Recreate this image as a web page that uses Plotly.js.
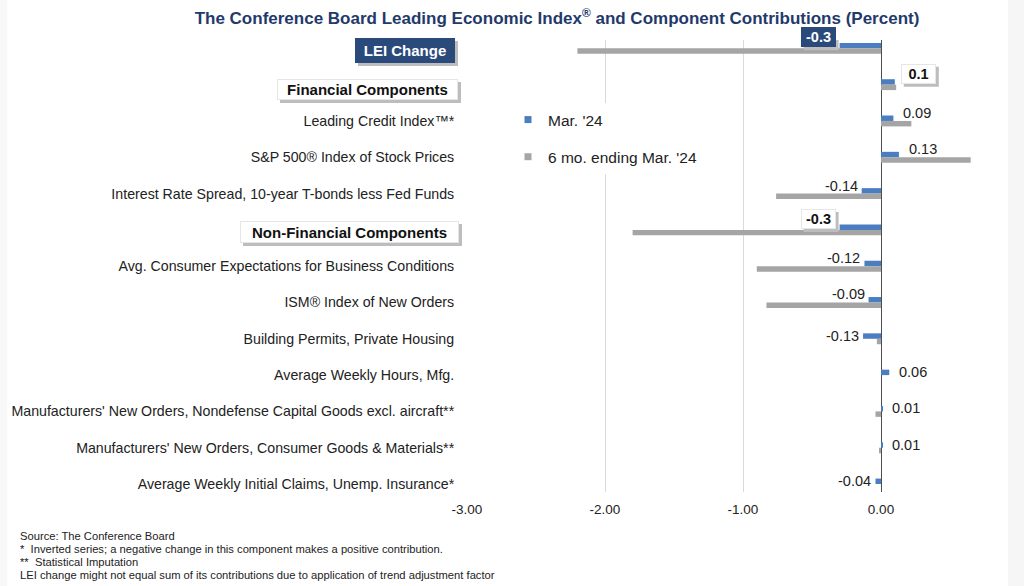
<!DOCTYPE html>
<html>
<head>
<meta charset="utf-8">
<script src="https://cdn.plot.ly/plotly-3.0.1.min.js"></script>
<style>
  html, body { margin: 0; padding: 0; background: #ffffff; }
  #chart { width: 1024px; height: 586px; }
</style>
</head>
<body>
<div id="chart"></div>
<script>
// ---------- data ----------
const categories = [
  "LEI Change",
  "Financial Components",
  "Leading Credit Index™*",
  "S&P 500® Index of Stock Prices",
  "Interest Rate Spread, 10-year T-bonds less Fed Funds",
  "Non-Financial Components",
  "Avg. Consumer Expectations for Business Conditions",
  "ISM® Index of New Orders",
  "Building Permits, Private Housing",
  "Average Weekly Hours, Mfg.",
  "Manufacturers' New Orders, Nondefense Capital Goods excl. aircraft**",
  "Manufacturers' New Orders, Consumer Goods & Materials**",
  "Average Weekly Initial Claims, Unemp. Insurance*"
];
const headingRows = ["LEI Change", "Financial Components", "Non-Financial Components"];
const seriesNames = ["Mar. '24", "6 mo. ending Mar. '24"];
const marValues   = [-0.3, 0.1, 0.09, 0.13, -0.14, -0.3, -0.12, -0.09, -0.13, 0.06, 0.01, 0.01, -0.04];
const sixMoValues = [-2.2, 0.11, 0.22, 0.65, -0.76, -1.8, -0.90, -0.83, -0.03, 0.0, -0.04, -0.01, 0.0];
const xTickVals   = [-3, -2, -1, 0];
const xTickText   = ["-3.00", "-2.00", "-1.00", "0.00"];
const footnotes = [
  "Source: The Conference Board",
  "*  Inverted series; a negative change in this component makes a positive contribution.",
  "**  Statistical Imputation",
  "LEI change might not equal sum of its contributions due to application of trend adjustment factor"
];

// ---------- layout geometry ----------
const W = 1024, H = 586;
const L = 467, R = 1007, T = 40, B = 492;
const PW = R - L, PH = B - T;
const px2x = p => (p - L) / PW;
const py2y = p => (B - p) / PH;

const BLUE = "#4A7EC1", GRAY = "#A5A5A5", NAVY = "#2A4A7C", TITLE = "#1F3A6B", SHADOW = "#BDBDBD";
const FONT = "Liberation Sans, Arial, sans-serif";

const componentRows = categories.filter(c => !headingRows.includes(c));

const traces = [
  {
    type: "bar", orientation: "h", name: seriesNames[0],
    y: categories, x: marValues,
    marker: { color: BLUE }, showlegend: false, hoverinfo: "x+y"
  },
  {
    type: "bar", orientation: "h", name: seriesNames[1],
    y: categories, x: sixMoValues,
    marker: { color: GRAY }, showlegend: false, hoverinfo: "x+y"
  },
  // legend entries (small square swatches)
  {
    type: "scatter", mode: "markers", name: seriesNames[0], legendgroup: "a",
    x: [null], y: [null], marker: { symbol: "square", size: 7, color: BLUE }
  },
  {
    type: "scatter", mode: "markers", name: seriesNames[1], legendgroup: "b",
    x: [null], y: [null], marker: { symbol: "square", size: 7, color: GRAY }
  }
];

const annotations = [];
const shapes = [
  { type: "rect", xref: "paper", yref: "paper", x0: px2x(1008), x1: px2x(1024), y0: py2y(586), y1: py2y(0),
    fillcolor: "#F6F6F6", line: { width: 0 }, layer: "below" },
  { type: "rect", xref: "paper", yref: "paper", x0: px2x(0), x1: px2x(7), y0: py2y(586), y1: py2y(0),
    fillcolor: "#F8F8F8", line: { width: 0 }, layer: "below" }
];

// section heading boxes on the left (box outer size = w+4, h+4)
function headingBox(text, cx, cy, w, h, bg, fg, size, border) {
  const ow = w + 4, oh = h + 4;
  shapes.push({
    type: "rect", xref: "paper", yref: "paper",
    x0: px2x(cx - ow / 2 + 3), x1: px2x(cx + ow / 2 + 3),
    y0: py2y(cy + oh / 2 + 3), y1: py2y(cy - oh / 2 + 3),
    fillcolor: SHADOW, line: { width: 0 }, layer: "above"
  });
  annotations.push({
    xref: "paper", yref: "paper", x: px2x(cx), y: py2y(cy),
    xanchor: "center", yanchor: "middle",
    text: "<b>" + text + "</b>", showarrow: false, width: w, height: h,
    bgcolor: bg, bordercolor: border || bg, borderwidth: 1, borderpad: 1,
    font: { family: FONT, size: size, color: fg }
  });
}
headingBox("LEI Change", 405, 50.5, 96, 21, NAVY, "#ffffff", 15);
headingBox("Financial Components", 367.5, 89.5, 177, 17, "#ffffff", "#111111", 15, "#e6e6e6");
headingBox("Non-Financial Components", 349.5, 232, 215, 18, "#ffffff", "#111111", 15, "#e6e6e6");

// data labels for the Mar. '24 series
categories.forEach((c, i) => {
  const v = marValues[i];
  const g = sixMoValues[i];
  const isHead = headingRows.includes(c);
  const txt = isHead ? v.toFixed(1) : v.toFixed(2);
  const pos = v >= 0;
  if (isHead) {
    const lei = i === 0;
    const bw = 29, bh = 14, ow = bw + 6, oh = bh + 6;
    const xs = pos ? 6 : -4, ys = 11;
    const left = pos ? xs : xs - ow;
    shapes.push({
      type: "rect", xref: "x", yref: "y",
      xsizemode: "pixel", ysizemode: "pixel", xanchor: v, yanchor: c,
      x0: left + 3, x1: left + ow + 3,
      y0: ys - oh / 2 - 3, y1: ys + oh / 2 - 3,
      fillcolor: SHADOW, line: { width: 0 }, layer: "above"
    });
    annotations.push({
      xref: "x", yref: "y", x: v, y: c,
      xanchor: pos ? "left" : "right", yanchor: "middle",
      xshift: xs, yshift: ys, width: bw, height: bh,
      text: "<b>" + txt + "</b>", showarrow: false,
      bgcolor: lei ? NAVY : "#ffffff", borderpad: 2,
      bordercolor: lei ? NAVY : "#e6e6e6", borderwidth: 1,
      font: { family: FONT, size: 14.5, color: lei ? "#ffffff" : "#111111" }
    });
  } else {
    const crowded = (g * v > 0) && Math.abs(g) > Math.abs(v);
    annotations.push({
      xref: "x", yref: "y", x: v, y: c,
      xanchor: pos ? "left" : "right", yanchor: "middle",
      xshift: pos ? 8 : -2, yshift: crowded ? 8 : 3,
      text: txt, showarrow: false,
      font: { family: FONT, size: 14.5, color: "#222222" }
    });
  }
});

// footnotes
footnotes.forEach((f, i) => {
  annotations.push({
    xref: "paper", yref: "paper", x: px2x(18), y: py2y(536 + 13 * i),
    xanchor: "left", yanchor: "middle", showarrow: false,
    text: f, font: { family: FONT, size: 11.2, color: "#222222" }
  });
});

const layout = {
  width: W, height: H,
  paper_bgcolor: "#ffffff", plot_bgcolor: "#ffffff",
  margin: { l: L, r: W - R, t: T, b: H - B, pad: 0 },
  title: {
    text: "<b>The Conference Board Leading Economic Index<sup>®</sup> and Component Contributions (Percent)</b>",
    x: 557 / W, xanchor: "center", xref: "container",
    y: 1 - 18 / H, yanchor: "middle", yref: "container",
    font: { family: FONT, size: 17, color: TITLE }
  },
  barmode: "group", bargap: 0.7, bargroupgap: 0,
  xaxis: {
    range: [-3, -3 + PW / 138],
    tickvals: xTickVals, ticktext: xTickText,
    showgrid: true, gridcolor: "#D9D9D9", gridwidth: 1,
    zeroline: true, zerolinecolor: "#4D4D4D", zerolinewidth: 1,
    showline: false, ticks: "outside", ticklen: 5, tickcolor: "rgba(0,0,0,0)",
    tickfont: { family: FONT, size: 13.5, color: "#222222" },
    fixedrange: true
  },
  yaxis: {
    type: "category", categoryorder: "array", categoryarray: categories,
    range: [categories.length - 1 + 0.22, -0.23],
    tickvals: componentRows,
    ticktext: componentRows,
    showgrid: false, zeroline: false, showline: false,
    ticks: "outside", ticklen: 9, tickcolor: "rgba(0,0,0,0)",
    tickfont: { family: FONT, size: 14.2, color: "#222222" },
    fixedrange: true
  },
  showlegend: true,
  legend: {
    x: px2x(508), xanchor: "left",
    y: py2y(103), yanchor: "top",
    bgcolor: "#ffffff", borderwidth: 0,
    traceorder: "grouped", tracegroupgap: 14,
    font: { family: FONT, size: 15.5, color: "#222222" },
    itemclick: false, itemdoubleclick: false
  },
  shapes: shapes,
  annotations: annotations,
  hovermode: "closest"
};

Plotly.newPlot("chart", traces, layout, { displayModeBar: false });
</script>
</body>
</html>
